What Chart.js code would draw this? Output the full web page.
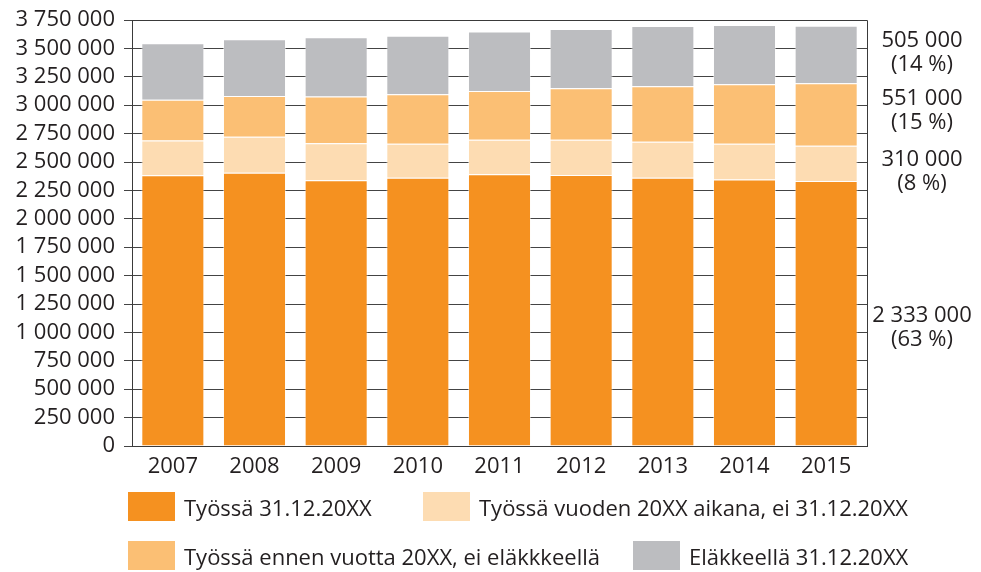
<!DOCTYPE html>
<html>
<head>
<meta charset="utf-8">
<script src="https://cdn.jsdelivr.net/npm/chart.js@4/dist/chart.umd.min.js"></script>
<style>
  html, body { margin: 0; padding: 0; background: #fff; }
  #wrap { position: relative; width: 981px; height: 572px; overflow: hidden; }
  canvas { position: absolute; left: 0; top: 0; }
  .lg { position: absolute; display: flex; align-items: center; font-family: "Open Sans", sans-serif; font-size: 22px; color: #231f20; white-space: nowrap; }
  .lg .box { width: 47px; height: 29px; margin-right: 9px; flex: none; }
</style>
</head>
<body>
<div id="wrap">
  <canvas id="c" width="981" height="572"></canvas>
  <div id="legend"></div>
</div>
<script>
// ---- data ----
const years = ['2007', '2008', '2009', '2010', '2011', '2012', '2013', '2014', '2015'];
const tyossa = [2383000, 2406000, 2339000, 2362000, 2392000, 2386000, 2362000, 2345000, 2333000];
const vuodenAikana = [307000, 316000, 325000, 299000, 304000, 310000, 317000, 316000, 310000];
const ennenVuotta = [357000, 358000, 413000, 436000, 430000, 454000, 488000, 524000, 551000];
const elakkeella = [498000, 500000, 521000, 515000, 522000, 521000, 530000, 521000, 505000];
const seriesNames = ['Työssä 31.12.20XX', 'Työssä vuoden 20XX aikana, ei 31.12.20XX', 'Työssä ennen vuotta 20XX, ei eläkkkeellä', 'Eläkkeellä 31.12.20XX'];
const yMax = 3750000;
const yStep = 250000;

// ---- style ----
const colors = ['#F59120', '#FDDCB2', '#FBBF74', '#BCBDC0'];
const textColor = '#231f20';
const fontFamily = '"Open Sans", sans-serif';
const labelNudge = [14, 8, -4, -2];

function fmt(v) {
  return String(Math.round(v)).replace(/\B(?=(\d{3})+(?!\d))/g, ' ');
}

const seriesData = [tyossa, vuodenAikana, ennenVuotta, elakkeella];

const frame = {
  id: 'frame',
  afterDatasetsDraw(chart) {
    const a = chart.chartArea, ctx = chart.ctx;
    ctx.save();
    ctx.strokeStyle = '#3a3a3a';
    ctx.lineWidth = 1;
    ctx.beginPath();
    ctx.moveTo(Math.round(a.left) + 0.5, Math.round(a.top) + 0.5);
    ctx.lineTo(Math.round(a.right) + 0.5, Math.round(a.top) + 0.5);
    ctx.lineTo(Math.round(a.right) + 0.5, Math.round(a.bottom) + 0.5);
    ctx.stroke();
    ctx.restore();
  }
};

const sideLabels = {
  id: 'sideLabels',
  afterDraw(chart) {
    const ctx = chart.ctx, a = chart.chartArea;
    const last = years.length - 1;
    const total = seriesData.reduce((s, arr) => s + arr[last], 0);
    ctx.save();
    ctx.fillStyle = textColor;
    ctx.font = '22px ' + fontFamily;
    ctx.textAlign = 'center';
    ctx.textBaseline = 'middle';
    seriesData.forEach((arr, i) => {
      const el = chart.getDatasetMeta(i).data[last];
      const mid = (el.y + el.base) / 2 + labelNudge[i];
      const x = a.right + 55;
      ctx.fillText(fmt(arr[last]), x, mid - 12);
      ctx.fillText('(' + Math.round(arr[last] / total * 100) + ' %)', x, mid + 12);
    });
    ctx.restore();
  }
};

new Chart(document.getElementById('c'), {
  type: 'bar',
  data: {
    labels: years,
    datasets: seriesData.map((arr, i) => ({
      label: seriesNames[i],
      data: arr,
      backgroundColor: colors[i],
      borderColor: 'rgba(255,255,255,0.45)',
      borderWidth: 1,
      categoryPercentage: 1,
      barPercentage: 0.772
    }))
  },
  options: {
    responsive: false,
    animation: false,
    layout: { padding: { top: 19, right: 114, bottom: 86, left: 0 } },
    plugins: { legend: { display: false }, tooltip: { enabled: false } },
    scales: {
      x: {
        stacked: true,
        grid: { display: false },
        border: { display: true, color: '#3a3a3a', width: 1 },
        ticks: { color: textColor, font: { family: fontFamily, size: 22 }, padding: 0, maxRotation: 0, autoSkip: false },
        afterFit(s) { s.height = 40; }
      },
      y: {
        stacked: true,
        min: 0,
        max: yMax,
        grid: { color: '#444444', lineWidth: 1, drawTicks: true, tickLength: 8 },
        border: { display: true, color: '#3a3a3a', width: 1 },
        ticks: { stepSize: yStep, autoSkip: false, color: textColor, font: { family: fontFamily, size: 22, lineHeight: 1 }, padding: 9, callback: v => fmt(v) },
        afterFit(s) { s.width = 132; }
      }
    }
  },
  plugins: [frame, sideLabels]
});

// ---- HTML legend ----
const legendPos = [
  { left: 128, top: 492 },
  { left: 423, top: 492 },
  { left: 128, top: 541 },
  { left: 633, top: 541 }
];
const lg = document.getElementById('legend');
seriesNames.forEach((n, i) => {
  const d = document.createElement('div');
  d.className = 'lg';
  d.style.left = legendPos[i].left + 'px';
  d.style.top = legendPos[i].top + 'px';
  d.style.height = '29px';
  const b = document.createElement('span');
  b.className = 'box';
  b.style.background = colors[i];
  const t = document.createElement('span');
  t.textContent = n;
  d.appendChild(b); d.appendChild(t);
  lg.appendChild(d);
});
</script>
</body>
</html>
